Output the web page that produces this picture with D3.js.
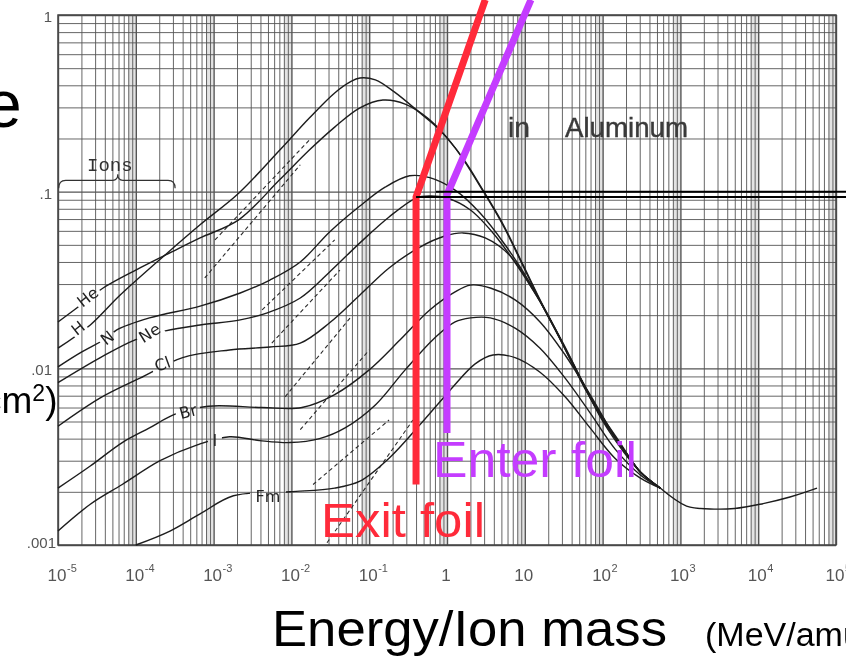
<!DOCTYPE html>
<html>
<head>
<meta charset="utf-8">
<script src="https://cdn.jsdelivr.net/npm/d3@7/dist/d3.min.js"></script>
<style>
  html, body { margin: 0; padding: 0; background: #fff; overflow: hidden; }
  svg { display: block; }
</style>
</head>
<body>
<svg id="chart" width="846" height="657"></svg>
<script>
// ---------- axes: energy per nucleon (MeV/amu) and stopping power ----------
const energyDecades = [1e-5, 1e-4, 1e-3, 1e-2, 1e-1, 1, 10, 1e2, 1e3, 1e4, 1e5];
const energyTickBase = ["10", "10", "10", "10", "10", "1", "10", "10", "10", "10", "10"];
const energyTickExp = ["-5", "-4", "-3", "-2", "-1", "", "", "2", "3", "4", "5"];
const stoppingTicks = [1, 0.1, 0.01, 0.001];
const stoppingTickLabels = ["1", ".1", ".01", ".001"];

// ---------- stopping curves in aluminum: [E (MeV/amu), S] ----------
const ionH = [[1.0e-5,0.013],[2.6e-5,0.0176],[6.3e-5,0.026],[2.4e-4,0.044],[6.7e-4,0.065],[2.1e-3,0.098],[7.1e-3,0.172],[0.017,0.261],[0.036,0.362],[0.057,0.418],[0.076,0.44],[0.12,0.429],[0.21,0.367],[0.45,0.279],[0.81,0.223],[1.6,0.155],[2.9,0.102],[5.3,0.065],[9.5,0.0385],[17,0.0228],[31,0.0139],[56,0.0083],[101,0.0051],[183,0.0035],[303,0.0026],[550,0.0021]];
const ionHe = [[1.0e-5,0.0183],[2.4e-5,0.0244],[3.8e-5,0.0285],[1.0e-4,0.036],[2.9e-4,0.0456],[6.7e-4,0.0547],[2.1e-3,0.0692],[7.1e-3,0.117],[0.017,0.172],[0.036,0.232],[0.076,0.298],[0.15,0.33],[0.29,0.313],[0.60,0.255],[1.27,0.177],[2.9,0.101],[5.3,0.064],[9.5,0.038],[17,0.0225],[31,0.0137],[56,0.0082],[101,0.0050],[183,0.0034],[303,0.0026],[550,0.0021]];
const ionN = [[1.0e-5,0.0102],[1.9e-5,0.0122],[4.3e-5,0.0149],[5.7e-5,0.0165],[1.5e-4,0.0193],[6.7e-4,0.0225],[2.2e-3,0.0267],[5.3e-3,0.0316],[0.013,0.040],[0.031,0.0592],[0.076,0.083],[0.16,0.106],[0.33,0.123],[0.60,0.120],[1.27,0.102],[2.66,0.0757],[5.6,0.0499],[11.7,0.0304],[24,0.0169],[51,0.0088],[107,0.0049],[225,0.0031],[303,0.0026],[550,0.0021]];
const ionNe = [[1.0e-5,0.0083],[3.5e-5,0.0115],[9.8e-5,0.0145],[2.4e-4,0.0163],[6.7e-4,0.0176],[2.2e-3,0.0188],[4.9e-3,0.0206],[0.013,0.025],[0.031,0.0351],[0.076,0.0513],[0.18,0.0719],[0.4,0.092],[0.60,0.0946],[1.0,0.0921],[2.0,0.0788],[4.1,0.0569],[8.7,0.036],[18.2,0.0214],[38,0.0115],[80,0.0062],[167,0.0038],[303,0.0026],[550,0.0021]];
const ionCl = [[1.0e-5,0.0047],[3.5e-5,0.0068],[1.13e-4,0.0088],[4.0e-4,0.0115],[1.6e-3,0.0127],[5.3e-3,0.0132],[0.013,0.0139],[0.031,0.0181],[0.076,0.026],[0.18,0.037],[0.45,0.0486],[0.94,0.0561],[1.6,0.0584],[3.1,0.0547],[6.5,0.0433],[13.5,0.0267],[28,0.0149],[59,0.0077],[124,0.0045],[225,0.0031],[303,0.0026],[550,0.0021]];
const ionBr = [[1.0e-5,0.0021],[2.6e-5,0.0028],[6.7e-5,0.0038],[1.5e-4,0.0046],[3.2e-4,0.0055],[8.5e-4,0.0061],[4.2e-3,0.0060],[0.0137,0.0060],[0.036,0.0071],[0.10,0.0098],[0.25,0.0145],[0.60,0.0214],[1.27,0.0271],[2.0,0.0296],[3.6,0.0285],[7.5,0.0244],[15.7,0.0183],[33,0.0119],[69,0.0071],[144,0.0041],[303,0.0026],[550,0.0021]];
const ionI = [[1.0e-5,0.0012],[2.6e-5,0.0017],[6.7e-5,0.0022],[2.05e-4,0.0030],[6.3e-4,0.0037],[1.6e-3,0.0041],[3.9e-3,0.0039],[9.6e-3,0.0038],[0.023,0.0040],[0.049,0.0046],[0.12,0.0062],[0.29,0.0098],[0.70,0.0149],[1.27,0.0183],[2.0,0.0193],[3.6,0.0193],[7.5,0.0169],[15.7,0.013],[33,0.0088],[69,0.0056],[144,0.0035],[303,0.0025],[550,0.0021]];
const ionFm = [[1.0e-4,0.0010],[2.75e-4,0.0012],[6.7e-4,0.0015],[1.8e-3,0.0019],[9.6e-3,0.0020],[0.036,0.0021],[0.076,0.0023],[0.18,0.0031],[0.45,0.0048],[1.09,0.0075],[2.3,0.0106],[3.9,0.0119],[7.5,0.0115],[15.7,0.0095],[33,0.0069],[69,0.0046],[144,0.0031],[303,0.0024],[550,0.0021]];
// common relativistic branch shared by all ions
const highEnergyTail = [[550,0.0021],[1200,0.00166],[2400,0.0016],[5000,0.00161],[10500,0.0017],[25600,0.00187],[57000,0.0021]];

// electronic-stopping asymptotes (dashed)
const asymptoteA = [[7.7e-4,0.0325],[0.013,0.142]];
const asymptoteB = [[1.04e-3,0.0533],[0.017,0.196]];
const asymptoteN = [[4.2e-3,0.0214],[0.036,0.0533]];
const asymptoteNe = [[5.6e-3,0.0139],[0.042,0.036]];
const asymptoteCl = [[8.3e-3,0.0069],[0.057,0.0193]];
const asymptoteBr = [[0.013,0.0045],[0.10,0.0127]];
const asymptoteI = [[0.019,0.0022],[0.18,0.0051]];
const asymptoteFm = [[0.0287,0.00103],[0.365,0.0051]];

// foil markers: vertical at foil energy, then diagonal upward
const exitFoilPath = [[0.4,0.0022],[0.4,0.0933],[3.1,1.22]];
const enterFoilPath = [[1,0.0043],[1,0.096],[12,1.22]];
const levelLines = [{S: 0.1, from: 0.72, to: 1.35e5}, {S: 0.0933, from: 0.4, to: 1.35e5}];

// ---------- layout ----------
const frame = {left: 58, right: 836, top: 15, bottom: 545};
const x = d3.scaleLog().domain([1e-5, 1e5]).range([frame.left, frame.right]);
const y = d3.scaleLog().domain([1e-3, 1]).range([frame.bottom, frame.top]);
const isDecade = v => Math.abs(Math.log10(v) - Math.round(Math.log10(v))) < 1e-9;

const curves = [ionH, ionHe, ionN, ionNe, ionCl, ionBr, ionI, ionFm, highEnergyTail];
const asymptotes = [asymptoteA, asymptoteB, asymptoteN, asymptoteNe, asymptoteCl, asymptoteBr, asymptoteI, asymptoteFm];

const curveLabels = [
  {text: "He", E: 2.4e-5, S: 0.0254, angle: -38, gap: 27},
  {text: "H",  E: 1.8e-5, S: 0.0169, angle: -38, gap: 16},
  {text: "N",  E: 4.3e-5, S: 0.0149, angle: -38, gap: 17},
  {text: "Ne", E: 1.5e-4, S: 0.0159, angle: -32, gap: 28},
  {text: "Cl", E: 2.2e-4, S: 0.0106, angle: -20, gap: 23},
  {text: "Br", E: 4.7e-4, S: 0.0057, angle: -15, gap: 25},
  {text: "I",  E: 1.04e-3, S: 0.0039, angle: 0, gap: 14},
  {text: "Fm", E: 5.0e-3, S: 0.0019, angle: 0, gap: 36}
];

const svg = d3.select("#chart");
const defs = svg.append("defs");
defs.append("filter").attr("id", "soft")
  .attr("x", "-5%").attr("y", "-5%").attr("width", "110%").attr("height", "110%")
  .append("feGaussianBlur").attr("stdDeviation", 0.45);

// gaps in the curves where the ion names sit
const mask = defs.append("mask").attr("id", "labelGaps")
  .attr("maskUnits", "userSpaceOnUse").attr("x", 0).attr("y", 0).attr("width", 846).attr("height", 657);
mask.append("rect").attr("width", 846).attr("height", 657).attr("fill", "white");
curveLabels.forEach(l => {
  mask.append("rect")
    .attr("transform", `translate(${x(l.E)},${y(l.S)}) rotate(${l.angle})`)
    .attr("x", -l.gap / 2).attr("y", -9).attr("width", l.gap).attr("height", 18)
    .attr("fill", "black");
});

const scan = svg.append("g").attr("filter", "url(#soft)");

// soft darker columns next to each decade line
const bands = scan.append("g");
energyDecades.slice(1).forEach(v => {
  bands.append("rect")
    .attr("x", x(v * 0.8)).attr("y", frame.top)
    .attr("width", x(v) - x(v * 0.8)).attr("height", frame.bottom - frame.top)
    .attr("fill", "#9a9a9a").attr("opacity", 0.28);
});

// log grid via axes
const xGridValues = [];
energyDecades.slice(0, -1).forEach(v => { for (let k = 1; k <= 9; k++) xGridValues.push(k * v); });
xGridValues.push(1e5);
const yGridValues = [];
stoppingTicks.slice(1).forEach(v => { for (let k = 1; k <= 9; k++) yGridValues.push(k * v); });
yGridValues.push(1);

scan.append("g").attr("transform", `translate(0,${frame.bottom})`)
  .call(d3.axisBottom(x).tickValues(xGridValues).tickSize(-(frame.bottom - frame.top)).tickFormat(""))
  .call(g => {
    g.select(".domain").remove();
    g.selectAll(".tick line").attr("stroke", "#555").attr("stroke-width", d => isDecade(d) ? 1.4 : 0.9);
  });
scan.append("g").attr("transform", `translate(${frame.left},0)`)
  .call(d3.axisLeft(y).tickValues(yGridValues).tickSize(-(frame.right - frame.left)).tickFormat(""))
  .call(g => {
    g.select(".domain").remove();
    g.selectAll(".tick line").attr("stroke", "#555").attr("stroke-width", d => isDecade(d) ? 1.4 : 0.9);
  });
scan.append("rect")
  .attr("x", frame.left).attr("y", frame.top)
  .attr("width", frame.right - frame.left).attr("height", frame.bottom - frame.top)
  .attr("fill", "none").attr("stroke", "#444").attr("stroke-width", 1.5);

// curves
const line = d3.line().x(d => x(d[0])).y(d => y(d[1])).curve(d3.curveCatmullRom.alpha(0.5));
const curveG = scan.append("g").attr("mask", "url(#labelGaps)");
curveG.selectAll("path.curve").data(curves).join("path")
  .attr("class", "curve").attr("d", line)
  .attr("fill", "none").attr("stroke", "#1c1c1c").attr("stroke-width", 1.4);
curveG.selectAll("path.asym").data(asymptotes).join("path")
  .attr("class", "asym").attr("d", d3.line().x(d => x(d[0])).y(d => y(d[1])))
  .attr("fill", "none").attr("stroke", "#2a2a2a").attr("stroke-width", 1.1)
  .attr("stroke-dasharray", "4,3");

// ion names
curveLabels.forEach(l => {
  scan.append("text")
    .attr("transform", `translate(${x(l.E)},${y(l.S)}) rotate(${l.angle})`)
    .attr("text-anchor", "middle").attr("dy", "0.36em")
    .attr("font-family", "DejaVu Sans, sans-serif").attr("font-size", 16)
    .attr("fill", "#222").text(l.text);
});

// "Ions" brace
const brace = {from: 1.02e-5, to: 3.2e-4, mid: 1.0e-4, S: 0.116};
{
  const x0 = x(brace.from), x1 = x(brace.to), xm = x(brace.mid) - 18, y0 = y(brace.S);
  scan.append("path")
    .attr("d", `M${x0},${y0 + 8} Q${x0},${y0} ${x0 + 7},${y0} L${xm - 5},${y0} Q${xm},${y0} ${xm},${y0 - 6} Q${xm},${y0} ${xm + 5},${y0} L${x1 - 7},${y0} Q${x1},${y0} ${x1},${y0 + 8}`)
    .attr("fill", "none").attr("stroke", "#333").attr("stroke-width", 1.2);
  scan.append("text").attr("x", xm - 8).attr("y", y0 - 9).attr("text-anchor", "middle")
    .attr("font-family", "Liberation Mono, monospace").attr("font-size", 19)
    .attr("fill", "#333").text("Ions");
}

// "in Aluminum"
scan.append("text").attr("x", 508).attr("y", 137)
  .attr("font-family", "Liberation Sans, Arial, sans-serif").attr("font-size", 28)
  .attr("fill", "#3a3a3a").attr("stroke", "#3a3a3a").attr("stroke-width", 0.4)
  .attr("textLength", 22).attr("lengthAdjust", "spacingAndGlyphs").text("in");
scan.append("text").attr("x", 565).attr("y", 137)
  .attr("font-family", "Liberation Sans, Arial, sans-serif").attr("font-size", 28)
  .attr("fill", "#3a3a3a").attr("stroke", "#3a3a3a").attr("stroke-width", 0.4)
  .attr("textLength", 123).attr("lengthAdjust", "spacingAndGlyphs").text("Aluminum");

// energy tick labels
energyDecades.forEach((v, i) => {
  const cx = x(v) - 1;
  scan.append("text").attr("x", cx).attr("y", 581).attr("text-anchor", "middle")
    .attr("font-family", "Liberation Sans, Arial, sans-serif").attr("font-size", 17)
    .attr("fill", "#555").text(energyTickBase[i]);
  if (energyTickExp[i]) {
    scan.append("text").attr("x", cx + 10).attr("y", 572)
      .attr("font-family", "Liberation Sans, Arial, sans-serif").attr("font-size", 11)
      .attr("fill", "#555").text(energyTickExp[i]);
  }
});

// stopping-power tick labels
stoppingTicks.forEach((v, i) => {
  scan.append("text").attr("x", i === 3 ? 56 : 52).attr("y", Math.min(y(v) + 7, 548))
    .attr("text-anchor", "end")
    .attr("font-family", "Liberation Sans, Arial, sans-serif").attr("font-size", 15)
    .attr("fill", "#555").text(stoppingTickLabels[i]);
});

// ---------- foil annotations ----------
const poly = d3.line().x(d => x(d[0])).y(d => y(d[1]));
svg.append("path").attr("d", poly(exitFoilPath))
  .attr("fill", "none").attr("stroke", "#ff2a3a").attr("stroke-width", 7).attr("stroke-linejoin", "miter");
svg.append("path").attr("d", poly(enterFoilPath))
  .attr("fill", "none").attr("stroke", "#c43cff").attr("stroke-width", 7).attr("stroke-linejoin", "miter");
levelLines.forEach(l => {
  svg.append("line")
    .attr("x1", x(l.from)).attr("x2", x(l.to))
    .attr("y1", y(l.S)).attr("y2", y(l.S))
    .attr("stroke", "#000").attr("stroke-width", 2);
});

svg.append("text").attr("x", 321).attr("y", 537)
  .attr("font-family", "Liberation Sans, Arial, sans-serif").attr("font-size", 49)
  .attr("fill", "#ff2a3a").attr("textLength", 164).attr("lengthAdjust", "spacingAndGlyphs")
  .text("Exit foil");
svg.append("text").attr("x", 433).attr("y", 477)
  .attr("font-family", "Liberation Sans, Arial, sans-serif").attr("font-size", 50)
  .attr("fill", "#c43cff").attr("textLength", 204).attr("lengthAdjust", "spacingAndGlyphs")
  .text("Enter foil");

// ---------- surrounding titles ----------
svg.append("text").attr("x", -15).attr("y", 127)
  .attr("font-family", "Liberation Sans, Arial, sans-serif").attr("font-size", 66)
  .attr("fill", "#000").text("e");
{
  const t = svg.append("text").attr("x", -17).attr("y", 413)
    .attr("font-family", "Liberation Sans, Arial, sans-serif").attr("font-size", 37).attr("fill", "#000");
  t.append("tspan").text("cm");
  t.append("tspan").attr("font-size", 23).attr("dy", -12).text("2");
  t.append("tspan").attr("dy", 12).text(")");
}
svg.append("text").attr("x", 272).attr("y", 646)
  .attr("font-family", "Liberation Sans, Arial, sans-serif").attr("font-size", 50)
  .attr("fill", "#000").attr("textLength", 395).attr("lengthAdjust", "spacingAndGlyphs")
  .text("Energy/Ion mass");
svg.append("text").attr("x", 705).attr("y", 646)
  .attr("font-family", "Liberation Sans, Arial, sans-serif").attr("font-size", 34)
  .attr("fill", "#000").text("(MeV/amu)");
</script>
</body>
</html>
